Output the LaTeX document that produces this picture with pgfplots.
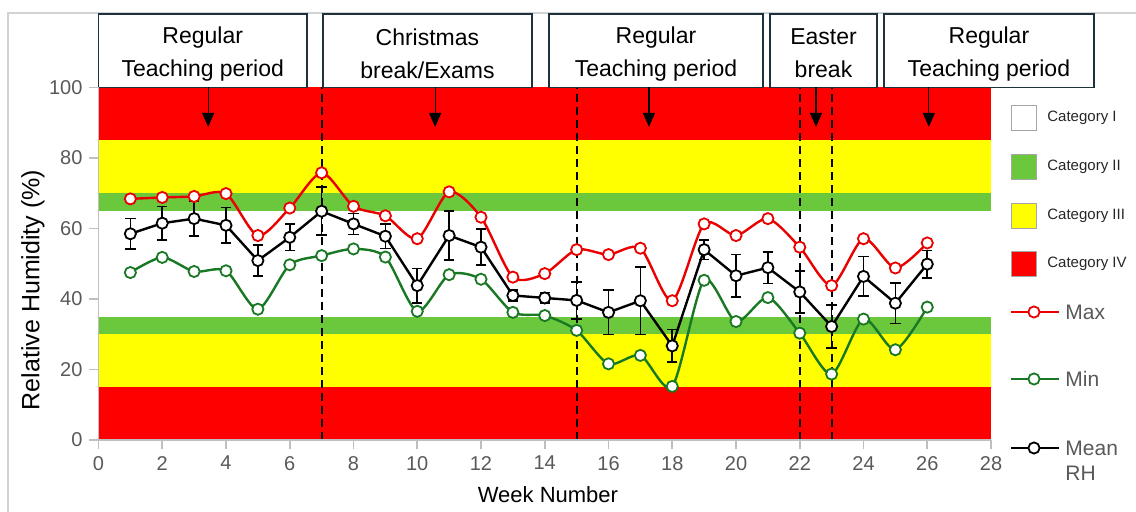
\documentclass[border=0pt]{standalone}
\usepackage{fontspec}
\setmainfont{Liberation Sans}
\usepackage{pgfplots}
\usepackage{pgfplotstable}
\pgfplotsset{compat=1.18}
\usetikzlibrary{arrows.meta}

\definecolor{bandred}{RGB}{255,0,0}
\definecolor{bandyellow}{RGB}{255,255,0}
\definecolor{bandgreen}{RGB}{107,200,60}
\definecolor{maxred}{RGB}{235,0,0}
\definecolor{mingreen}{RGB}{25,120,35}
\definecolor{axgray}{RGB}{191,191,191}
\definecolor{txtgray}{RGB}{89,89,89}
\definecolor{boxedge}{RGB}{30,50,62}

\pgfplotstableread{
week max min mean err
1 68.4 47.5 58.5 4.3
2 68.8 51.8 61.5 4.7
3 69.1 47.8 62.8 5.0
4 69.9 48.0 60.9 5.0
5 58.0 37.1 50.9 4.4
6 65.8 49.7 57.5 3.7
7 75.8 52.3 64.9 6.8
8 66.3 54.2 61.3 3.0
9 63.6 51.9 57.8 3.5
10 57.1 36.5 43.8 4.9
11 70.4 46.9 58.0 7.0
12 63.2 45.6 54.7 5.1
13 46.2 36.2 41.0 1.5
14 47.2 35.3 40.3 1.5
15 54.0 31.1 39.6 5.3
16 52.6 21.6 36.2 6.3
17 54.4 24.0 39.5 9.6
18 39.5 15.2 26.7 4.6
19 61.3 45.3 54.0 2.8
20 58.0 33.6 46.6 6.0
21 62.8 40.4 48.9 4.5
22 54.7 30.3 42.0 5.9
23 43.8 18.7 32.2 6.1
24 57.1 34.3 46.4 5.6
25 48.8 25.6 38.8 5.8
26 55.9 37.7 49.9 3.9
}\rh

\begin{document}
\begin{tikzpicture}
\useasboundingbox (-49.25pt,-36pt) rectangle (518.75pt,220pt);
\draw[axgray!70, line width=0.6pt] (-45.25pt,-40pt) -- (-45.25pt,213.5pt) -- (530pt,213.5pt);
\begin{axis}[
  at={(0,0)}, anchor=south west,
  width=446.25pt, height=176.25pt, scale only axis,
  xmin=0, xmax=28, ymin=0, ymax=100,
  xtick={0,2,...,28}, ytick={0,20,...,100},
  axis x line*=bottom, axis y line*=left,
  axis line style={axgray, line width=0.8pt},
  tick style={axgray, line width=0.8pt},
  tick align=outside, major tick length=4.5pt,
  ticklabel style={font=\fontsize{10}{12}\selectfont, text=txtgray},
  /pgf/number format/assume math mode=true,
  xlabel={Week Number}, ylabel={Relative Humidity (\%)},
  label style={font=\fontsize{11}{13}\selectfont, text=black},
  xlabel style={at={(rel axis cs:0.5036,-0.156)}, anchor=center},
  ylabel style={at={(rel axis cs:-0.0734,0.4255)}, anchor=center, font=\fontsize{12.5}{14}\selectfont},
  clip=false,
  axis on top,
]
% bands
\addplot[draw=none, fill=bandred] coordinates {(0,0)(28,0)(28,15)(0,15)};
\addplot[draw=none, fill=bandyellow] coordinates {(0,15)(28,15)(28,30)(0,30)};
\addplot[draw=none, fill=bandgreen] coordinates {(0,30)(28,30)(28,35)(0,35)};
\addplot[draw=none, fill=white] coordinates {(0,35)(28,35)(28,65)(0,65)};
\addplot[draw=none, fill=bandgreen] coordinates {(0,65)(28,65)(28,70)(0,70)};
\addplot[draw=none, fill=bandyellow] coordinates {(0,70)(28,70)(28,85)(0,85)};
\addplot[draw=none, fill=bandred] coordinates {(0,85)(28,85)(28,100)(0,100)};
% dashed separators
\addplot[black, line width=1pt, dash pattern=on 4pt off 2.5pt] coordinates {(7,0)(7,100)};
\addplot[black, line width=1pt, dash pattern=on 4pt off 2.5pt] coordinates {(15,0)(15,100)};
\addplot[black, line width=1pt, dash pattern=on 4pt off 2.5pt] coordinates {(22,0)(22,100)};
\addplot[black, line width=1pt, dash pattern=on 4pt off 2.5pt] coordinates {(23,0)(23,100)};
% series
\addplot[maxred, line width=1.2pt, smooth, tension=0.45, mark=*, mark size=2.8pt,
  mark options={fill=white, draw=maxred, line width=0.9pt, solid}] table[x=week,y=max]{\rh};
\addplot[mingreen, line width=1.2pt, smooth, tension=0.45, mark=*, mark size=2.8pt,
  mark options={fill=white, draw=mingreen, line width=0.9pt, solid}] table[x=week,y=min]{\rh};
\addplot[black, line width=1.2pt, mark=*, mark size=2.8pt,
  mark options={fill=white, draw=black, line width=0.9pt, solid},
  error bars/.cd, y dir=both, y explicit,
  error bar style={line width=0.8pt, black},
  error mark options={rotate=90, mark size=2.6pt, line width=0.8pt, black}]
  table[x=week,y=mean,y error=err]{\rh};
% period boxes
\tikzset{pbox/.style={draw=boxedge, line width=0.9pt, fill=white},
  ptext/.style={align=center, font=\fontsize{11.5}{16.5}\selectfont},
  parr/.style={-{Triangle[width=6pt,length=7pt]}, line width=0.6pt, black}}
\draw[pbox] (axis cs:0,100) rectangle (axis cs:6.54,120.9);
\node[ptext] at (axis cs:3.27,109.6) {Regular\\Teaching period};
\draw[pbox] (axis cs:7.04,100) rectangle (axis cs:13.6,120.9);
\node[ptext] at (axis cs:10.32,109.6) {Christmas\\break/Exams};
\draw[pbox] (axis cs:14.13,100) rectangle (axis cs:20.85,120.9);
\node[ptext] at (axis cs:17.49,109.6) {Regular\\Teaching period};
\draw[pbox] (axis cs:21.07,100) rectangle (axis cs:24.42,120.9);
\node[ptext] at (axis cs:22.745,109.6) {Easter\\break};
\draw[pbox] (axis cs:24.64,100) rectangle (axis cs:31.23,120.9);
\node[ptext] at (axis cs:27.935,109.6) {Regular\\Teaching period};
\draw[parr] (axis cs:3.44,100) -- (axis cs:3.44,88.8);
\draw[parr] (axis cs:10.56,100) -- (axis cs:10.56,88.8);
\draw[parr] (axis cs:17.27,100) -- (axis cs:17.27,88.8);
\draw[parr] (axis cs:22.51,100) -- (axis cs:22.51,88.8);
\draw[parr] (axis cs:26.05,100) -- (axis cs:26.05,88.8);
\end{axis}
% legend
\tikzset{ltext/.style={anchor=west, font=\fontsize{7.5}{9}\selectfont, text=black!85, inner sep=0pt},
  lline/.style={anchor=west, font=\fontsize{10.5}{12}\selectfont, text=txtgray, inner sep=0pt}}
\draw[gray!70, line width=0.5pt, fill=white] (456.25pt,154.75pt) rectangle ++(12.5pt,12.5pt);
\node[ltext] at (474.25pt,161pt) {Category I};
\draw[gray!70, line width=0.5pt, fill=bandgreen] (456.25pt,130.25pt) rectangle ++(12.5pt,12.5pt);
\node[ltext] at (474.25pt,136.5pt) {Category II};
\draw[gray!70, line width=0.5pt, fill=bandyellow] (456.25pt,105.75pt) rectangle ++(12.5pt,12.5pt);
\node[ltext] at (474.25pt,112pt) {Category III};
\draw[gray!70, line width=0.5pt, fill=bandred] (456.25pt,81.75pt) rectangle ++(12.5pt,12.5pt);
\node[ltext] at (474.25pt,88pt) {Category IV};
\draw[maxred, line width=1.2pt] (456.25pt,64pt) -- (480.25pt,64pt);
\draw[maxred, line width=0.9pt, fill=white] (467.75pt,64pt) circle (2.8pt);
\node[lline] at (483.25pt,64pt) {Max};
\draw[mingreen, line width=1.2pt] (456.25pt,30.5pt) -- (480.25pt,30.5pt);
\draw[mingreen, line width=0.9pt, fill=white] (467.75pt,30.5pt) circle (2.8pt);
\node[lline] at (483.25pt,30.5pt) {Min};
\draw[black, line width=1.2pt] (456.25pt,-4pt) -- (480.25pt,-4pt);
\draw[black, line width=0.9pt, fill=white] (467.75pt,-4pt) circle (2.8pt);
\node[lline] at (483.25pt,-4pt) {Mean};
\node[lline] at (483.25pt,-16.5pt) {RH};
\end{tikzpicture}
\end{document}
